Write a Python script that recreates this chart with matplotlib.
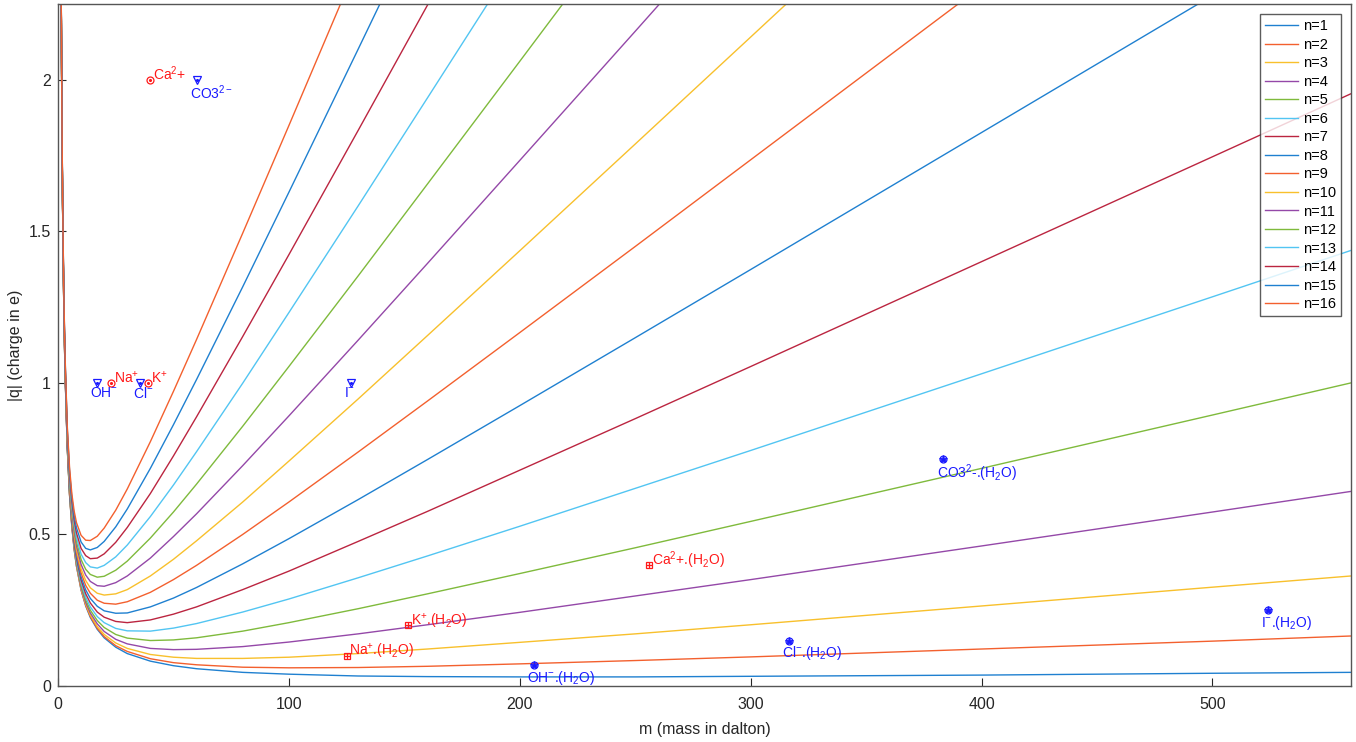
import matplotlib
matplotlib.use('Agg')
import matplotlib.pyplot as plt

plt.rcParams['font.family'] = ['Liberation Sans', 'DejaVu Sans']
plt.rcParams['mathtext.fontset'] = 'custom'
plt.rcParams['mathtext.rm'] = 'Liberation Sans'
plt.rcParams['mathtext.it'] = 'Liberation Sans:italic'
plt.rcParams['mathtext.bf'] = 'Liberation Sans:bold'

# mass grid shared by all curves (dalton)
m_grid = [1.4, 1.7, 2, 2.5, 3, 4, 5, 6, 7, 8, 10, 12, 14, 17, 20, 25, 30, 40, 50, 60,
          80, 100, 130, 160, 200, 250, 300, 400, 500, 560]

q1 = [2.250, 1.853, 1.575, 1.260, 1.050, 0.788, 0.630, 0.525, 0.450, 0.395, 0.316, 0.264, 0.226, 0.187,
      0.159, 0.128, 0.107, 0.082, 0.067, 0.057, 0.045, 0.039, 0.033, 0.031, 0.030, 0.030, 0.032, 0.036,
      0.042, 0.045]
q2 = [2.250, 1.853, 1.576, 1.261, 1.051, 0.789, 0.631, 0.527, 0.452, 0.396, 0.318, 0.266, 0.229, 0.190,
      0.163, 0.133, 0.114, 0.090, 0.077, 0.070, 0.062, 0.060, 0.061, 0.065, 0.073, 0.084, 0.096, 0.122,
      0.148, 0.165]
q3 = [2.251, 1.854, 1.576, 1.262, 1.052, 0.790, 0.633, 0.529, 0.455, 0.399, 0.321, 0.270, 0.234, 0.196,
      0.170, 0.142, 0.124, 0.104, 0.095, 0.091, 0.091, 0.095, 0.107, 0.122, 0.144, 0.172, 0.202, 0.264,
      0.326, 0.363]
q4 = [2.252, 1.855, 1.577, 1.263, 1.053, 0.792, 0.636, 0.532, 0.458, 0.403, 0.326, 0.276, 0.241, 0.205,
      0.180, 0.154, 0.139, 0.124, 0.120, 0.121, 0.130, 0.145, 0.172, 0.202, 0.243, 0.297, 0.351, 0.462,
      0.574, 0.642]
q5 = [2.253, 1.856, 1.579, 1.264, 1.055, 0.795, 0.639, 0.536, 0.462, 0.408, 0.333, 0.284, 0.250, 0.216,
      0.193, 0.170, 0.158, 0.150, 0.152, 0.159, 0.181, 0.209, 0.255, 0.304, 0.371, 0.456, 0.543, 0.718,
      0.894, 1.000]
q6 = [2.254, 1.857, 1.580, 1.266, 1.058, 0.798, 0.643, 0.540, 0.468, 0.414, 0.341, 0.293, 0.261, 0.229,
      0.209, 0.190, 0.182, 0.181, 0.191, 0.206, 0.244, 0.287, 0.357, 0.429, 0.527, 0.652, 0.777, 1.030,
      1.284, 1.437]
q7 = [2.255, 1.859, 1.582, 1.269, 1.060, 0.801, 0.647, 0.546, 0.474, 0.422, 0.350, 0.304, 0.274, 0.244,
      0.227, 0.213, 0.209, 0.218, 0.237, 0.261, 0.318, 0.379, 0.477, 0.576, 0.712, 0.882, 1.054, 1.400,
      1.746, 1.954]
q8 = [2.256, 1.861, 1.584, 1.271, 1.064, 0.806, 0.653, 0.552, 0.482, 0.430, 0.360, 0.317, 0.289, 0.263,
      0.248, 0.240, 0.241, 0.261, 0.290, 0.325, 0.403, 0.486, 0.615, 0.747, 0.925, 1.149, 1.374, 1.826,
      2.278, 2.551]
q9 = [2.258, 1.863, 1.587, 1.274, 1.067, 0.811, 0.659, 0.560, 0.490, 0.440, 0.373, 0.332, 0.306, 0.283,
      0.273, 0.270, 0.278, 0.309, 0.351, 0.398, 0.500, 0.607, 0.772, 0.940, 1.166, 1.450, 1.736, 2.308]
q10 = [2.260, 1.865, 1.589, 1.278, 1.071, 0.816, 0.666, 0.568, 0.500, 0.451, 0.386, 0.348, 0.324, 0.306,
       0.300, 0.304, 0.318, 0.363, 0.418, 0.479, 0.607, 0.742, 0.947, 1.156, 1.436, 1.788, 2.141, 2.848]
q11 = [2.262, 1.868, 1.592, 1.282, 1.076, 0.822, 0.673, 0.577, 0.510, 0.463, 0.401, 0.366, 0.345, 0.331,
       0.329, 0.341, 0.363, 0.422, 0.493, 0.568, 0.727, 0.891, 1.141, 1.394, 1.734, 2.160, 2.588]
q12 = [2.264, 1.870, 1.595, 1.286, 1.081, 0.828, 0.681, 0.586, 0.522, 0.476, 0.417, 0.385, 0.368, 0.359,
       0.362, 0.382, 0.412, 0.488, 0.574, 0.666, 0.857, 1.054, 1.353, 1.656, 2.061, 2.569]
q13 = [2.267, 1.873, 1.599, 1.290, 1.086, 0.836, 0.690, 0.597, 0.534, 0.490, 0.435, 0.407, 0.393, 0.389,
       0.398, 0.426, 0.465, 0.559, 0.663, 0.773, 0.999, 1.232, 1.584, 1.940, 2.416]
q14 = [2.270, 1.877, 1.603, 1.295, 1.092, 0.843, 0.700, 0.609, 0.547, 0.505, 0.454, 0.430, 0.420, 0.422,
       0.436, 0.474, 0.523, 0.635, 0.759, 0.888, 1.153, 1.423, 1.833, 2.246, 2.799]
q15 = [2.272, 1.880, 1.607, 1.300, 1.098, 0.851, 0.710, 0.621, 0.562, 0.522, 0.475, 0.454, 0.449, 0.457,
       0.477, 0.525, 0.584, 0.718, 0.862, 1.011, 1.317, 1.629, 2.101, 2.576]
q16 = [2.275, 1.884, 1.611, 1.305, 1.105, 0.860, 0.721, 0.634, 0.577, 0.539, 0.497, 0.481, 0.480, 0.494,
       0.521, 0.580, 0.650, 0.806, 0.972, 1.143, 1.494, 1.849, 2.387]
curves = [q1, q2, q3, q4, q5, q6, q7, q8, q9, q10, q11, q12, q13, q14, q15, q16]

# bare ions
cation_names = ['Ca$^{2}$+', 'Na$^{+}$', 'K$^{+}$']
cation_m = [40, 23, 39]
cation_q = [2, 1, 1]
anion_names = ['CO3$^{2-}$', 'OH$^{-}$', 'Cl$^{-}$', 'I$^{-}$']
anion_m = [60, 17, 35.5, 127]
anion_q = [2, 1, 1, 1]

# hydrated ions
hcation_names = ['Na$^{+}$.(H$_{2}$O)', 'K$^{+}$.(H$_{2}$O)', 'Ca$^{2}$+.(H$_{2}$O)']
hcation_m = [125, 151.5, 256]
hcation_q = [0.1, 0.2, 0.4]
hanion_names = ['OH$^{-}$.(H$_{2}$O)', 'Cl$^{-}$.(H$_{2}$O)', 'CO3$^{2}$-.(H$_{2}$O)', 'I$^{-}$.(H$_{2}$O)']
hanion_m = [206, 316.5, 383.5, 524]
hanion_q = [0.068, 0.15, 0.75, 0.25]

colors = ['#1f80d0', '#f3602e', '#f8c02c', '#9448a8', '#7fba3c', '#52c5f2', '#bb2540']

fig = plt.figure(figsize=(13.56, 7.42), dpi=100)
ax = fig.add_axes([58 / 1356, 56 / 742, 1293 / 1356, 682 / 742])

for i, q in enumerate(curves):
    ax.plot(m_grid[:len(q)], q, color=colors[i % 7], lw=1.0, label='n=%d' % (i + 1))

red = '#ff1a1a'
blue = '#1a1aff'

# cations: circle with a dot, label up-right
ax.plot(cation_m, cation_q, 'o', ms=5, mfc='none', mec=red, mew=0.9)
ax.plot(cation_m, cation_q, '.', ms=2.5, color=red)
for name, m, q in zip(cation_names, cation_m, cation_q):
    ax.annotate(name, (m, q), xytext=(2, 0), textcoords='offset points', color=red,
                fontsize=10, ha='left', va='baseline')

# anions: triangle with a dot, label underneath
ax.plot(anion_m, anion_q, 'v', ms=6, mfc='none', mec=blue, mew=0.9)
ax.plot(anion_m, anion_q, '.', ms=2.5, color=blue)
for name, m, q in zip(anion_names, anion_m, anion_q):
    ax.annotate(name, (m, q), xytext=(-5, -2.5), textcoords='offset points', color=blue,
                fontsize=10, ha='left', va='top')

# hydrated cations: square with plus
ax.plot(hcation_m, hcation_q, 's', ms=5, mfc='none', mec=red, mew=0.9)
ax.plot(hcation_m, hcation_q, '+', ms=5, color=red, mew=0.9)
for name, m, q in zip(hcation_names, hcation_m, hcation_q):
    ax.annotate(name, (m, q), xytext=(2, 0), textcoords='offset points', color=red,
                fontsize=10, ha='left', va='baseline')

# hydrated anions: circle with star
ax.plot(hanion_m, hanion_q, 'o', ms=5, mfc='none', mec=blue, mew=0.9)
ax.plot(hanion_m, hanion_q, '*', ms=6, color=blue, mew=0.6)
for name, m, q in zip(hanion_names, hanion_m, hanion_q):
    ax.annotate(name, (m, q), xytext=(-5, -2.5), textcoords='offset points', color=blue,
                fontsize=10, ha='left', va='top')

ax.set_xlim(0, 560)
ax.set_ylim(0, 2.25)
ax.set_xticks([0, 100, 200, 300, 400, 500])
ax.set_xticklabels(['0', '100', '200', '300', '400', '500'])
ax.set_yticks([0, 0.5, 1, 1.5, 2])
ax.set_yticklabels(['0', '0.5', '1', '1.5', '2'])
ax.tick_params(direction='in', length=6, width=0.8, colors='#262626', labelsize=11.5)
ax.tick_params(axis='x', pad=8)
ax.tick_params(axis='y', pad=5)
for sp in ax.spines.values():
    sp.set_color('#555555')
    sp.set_linewidth(1.0)

ax.set_xlabel('m (mass in dalton)', fontsize=11.5, color='#262626', labelpad=7)
ax.set_ylabel('|q| (charge in e)', fontsize=11.5, color='#262626', labelpad=4)

leg = ax.legend(loc='upper right', fontsize=10.5, frameon=True, fancybox=False,
                handlelength=2.3, handletextpad=0.3, labelspacing=0.31,
                borderpad=0.35, borderaxespad=0.7)
leg.get_frame().set_edgecolor('#333333')
leg.get_frame().set_linewidth(1.0)

fig.savefig('out.png', dpi=100)
